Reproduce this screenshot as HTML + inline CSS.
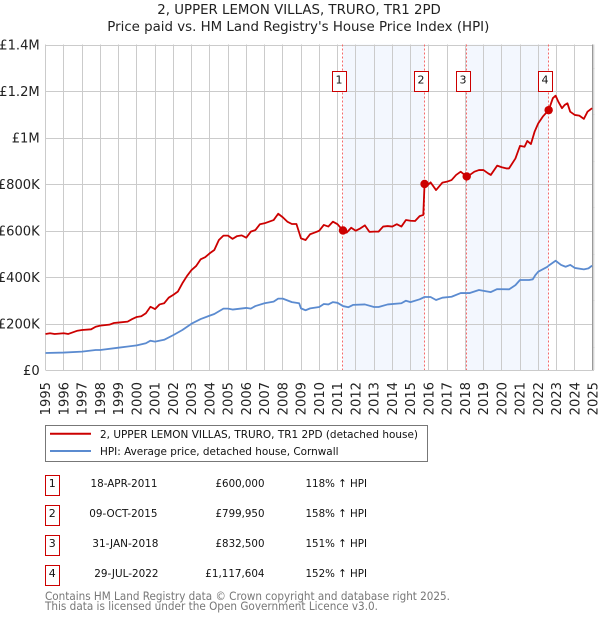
<!DOCTYPE html>
<html lang="en">
<head>
<meta charset="utf-8">
<title>2, UPPER LEMON VILLAS, TRURO, TR1 2PD</title>
<style>
html,body{margin:0;padding:0;background:#fff;width:600px;height:620px;overflow:hidden}
svg{display:block;font-family:"DejaVu Sans","Liberation Sans",sans-serif}
</style>
</head>
<body>
<svg id="chart" width="600" height="620" viewBox="0 0 600 620" xmlns="http://www.w3.org/2000/svg">
  <rect width="600" height="620" fill="#fff"/>
  <text x="157.3" y="14" font-size="13.3" fill="#222" textLength="283.5" lengthAdjust="spacingAndGlyphs">2, UPPER LEMON VILLAS, TRURO, TR1 2PD</text>
  <text x="107.3" y="31" font-size="13.3" fill="#222" textLength="382" lengthAdjust="spacingAndGlyphs">Price paid vs. HM Land Registry's House Price Index (HPI)</text>
  <g id="shade"></g>
  <g id="grid"></g>
  <g id="ylabels"></g>
  <g id="xlabels"></g>
  <g id="vlines"></g>
  <g id="series"></g>
  <g id="flags"></g>

  <g>
    <rect x="45.5" y="425.5" width="382" height="36" fill="#fff" stroke="#777" stroke-width="1"/>
    <line x1="50" y1="433.7" x2="91" y2="433.7" stroke="#cc0000" stroke-width="2"/>
    <text x="100" y="438" font-size="11" fill="#111" textLength="318" lengthAdjust="spacingAndGlyphs">2, UPPER LEMON VILLAS, TRURO, TR1 2PD (detached house)</text>
    <line x1="50" y1="451" x2="91" y2="451" stroke="#5b8bd0" stroke-width="2"/>
    <text x="100" y="455" font-size="11" fill="#111" textLength="238.5" lengthAdjust="spacingAndGlyphs">HPI: Average price, detached house, Cornwall</text>
  </g>

  <g font-size="11" fill="#111">
    <g>
      <rect x="45.5" y="475.5" width="14" height="20" fill="#fff" stroke="#cc0000"/>
      <text x="52.3" y="487" text-anchor="middle">1</text>
      <text x="90.5" y="487" textLength="67" lengthAdjust="spacingAndGlyphs">18-APR-2011</text>
      <text x="215.5" y="487" textLength="49" lengthAdjust="spacingAndGlyphs">£600,000</text>
      <text x="305.5" y="487" textLength="61.5" lengthAdjust="spacingAndGlyphs">118% ↑ HPI</text>
    </g>
    <g>
      <rect x="45.5" y="505.5" width="14" height="20" fill="#fff" stroke="#cc0000"/>
      <text x="52.3" y="517" text-anchor="middle">2</text>
      <text x="89.3" y="517" textLength="68.2" lengthAdjust="spacingAndGlyphs">09-OCT-2015</text>
      <text x="215.5" y="517" textLength="49" lengthAdjust="spacingAndGlyphs">£799,950</text>
      <text x="305.5" y="517" textLength="61.5" lengthAdjust="spacingAndGlyphs">158% ↑ HPI</text>
    </g>
    <g>
      <rect x="45.5" y="535.5" width="14" height="20" fill="#fff" stroke="#cc0000"/>
      <text x="52.3" y="547" text-anchor="middle">3</text>
      <text x="92.3" y="547" textLength="66.2" lengthAdjust="spacingAndGlyphs">31-JAN-2018</text>
      <text x="215.5" y="547" textLength="49" lengthAdjust="spacingAndGlyphs">£832,500</text>
      <text x="305.5" y="547" textLength="61.5" lengthAdjust="spacingAndGlyphs">151% ↑ HPI</text>
    </g>
    <g>
      <rect x="45.5" y="565.5" width="14" height="20" fill="#fff" stroke="#cc0000"/>
      <text x="52.3" y="577" text-anchor="middle">4</text>
      <text x="94.3" y="577" textLength="64.2" lengthAdjust="spacingAndGlyphs">29-JUL-2022</text>
      <text x="205.3" y="577" textLength="59.2" lengthAdjust="spacingAndGlyphs">£1,117,604</text>
      <text x="305.5" y="577" textLength="61.5" lengthAdjust="spacingAndGlyphs">152% ↑ HPI</text>
    </g>
  </g>

  <text x="45" y="600" font-size="11.5" fill="#777" textLength="405" lengthAdjust="spacingAndGlyphs">Contains HM Land Registry data © Crown copyright and database right 2025.</text>
  <text x="45" y="610" font-size="11.5" fill="#777" textLength="333" lengthAdjust="spacingAndGlyphs">This data is licensed under the Open Government Licence v3.0.</text>
</svg>

<script>
const yTickValues = [0, 200000, 400000, 600000, 800000, 1000000, 1200000, 1400000];
const yTickLabels = ['£0', '£200K', '£400K', '£600K', '£800K', '£1M', '£1.2M', '£1.4M'];
const yMinorTicks = [100000, 300000, 500000, 700000, 900000, 1100000, 1300000];
const xTickYears = [1995,1996,1997,1998,1999,2000,2001,2002,2003,2004,2005,2006,2007,2008,2009,2010,2011,2012,2013,2014,2015,2016,2017,2018,2019,2020,2021,2022,2023,2024,2025];

const saleLabels = ['1', '2', '3', '4'];
const saleDates = [2011.30, 2015.77, 2018.08, 2022.57];
const salePrices = [600000, 799950, 832500, 1117604];

const paidDates = [1995,1995.25,1995.5,1996,1996.25,1996.5,1996.75,1997,1997.5,1997.75,1998,1998.5,1998.75,1999,1999.5,1999.75,2000,2000.25,2000.5,2000.75,2001,2001.25,2001.5,2001.75,2002,2002.25,2002.5,2002.75,2003,2003.25,2003.5,2003.75,2004,2004.25,2004.5,2004.75,2005,2005.25,2005.5,2005.75,2006,2006.25,2006.5,2006.75,2007,2007.25,2007.5,2007.75,2008,2008.25,2008.5,2008.75,2009,2009.25,2009.5,2009.75,2010,2010.25,2010.5,2010.75,2011,2011.3,2011.5,2011.75,2012,2012.25,2012.5,2012.75,2013,2013.25,2013.5,2013.75,2014,2014.25,2014.5,2014.75,2015,2015.25,2015.5,2015.7,2015.77,2015.9,2016.1,2016.4,2016.75,2017,2017.25,2017.5,2017.75,2018.08,2018.25,2018.5,2018.75,2019,2019.25,2019.4,2019.75,2020,2020.25,2020.4,2020.75,2021,2021.25,2021.4,2021.6,2021.8,2022,2022.25,2022.57,2022.8,2022.95,2023.1,2023.3,2023.45,2023.6,2023.75,2024,2024.25,2024.5,2024.7,2024.95];
const paidValues = [155,158,155,158,155,162,169,172,175,186,191,195,202,204,208,219,228,231,244,272,262,282,287,311,323,337,373,404,430,447,476,485,502,516,559,578,578,564,576,579,569,595,602,627,631,638,645,672,657,638,628,628,566,559,584,591,599,624,617,638,627,600,591,612,599,609,622,594,595,595,617,619,617,627,617,645,642,641,662,667,800,792,807,774,806,810,817,839,853,832,839,853,860,860,846,839,879,872,867,867,910,964,960,985,972,1025,1061,1090,1117.6,1169,1180,1154,1126,1140,1147,1111,1097,1094,1080,1111,1126];

const hpiDates = [1995,1996,1997,1997.75,1998,1999,2000,2000.5,2000.75,2001,2001.5,2002,2002.5,2003,2003.5,2004,2004.25,2004.75,2005,2005.25,2006,2006.25,2006.5,2007,2007.5,2007.75,2008,2008.5,2008.9,2009,2009.25,2009.5,2010,2010.25,2010.5,2010.75,2011,2011.3,2011.6,2011.85,2012.5,2013,2013.25,2013.75,2014.5,2014.75,2015,2015.5,2015.77,2016.1,2016.4,2016.75,2017.25,2017.75,2018.25,2018.75,2019.4,2019.75,2020.4,2020.75,2021,2021.5,2021.7,2021.85,2022,2022.5,2022.57,2022.95,2023.25,2023.5,2023.75,2024,2024.5,2024.75,2024.95];
const hpiValues = [73,75,79,86,86,96,106,115,126,122,130,150,172,199,219,234,241,264,264,260,267,264,275,287,294,307,307,292,287,265,257,265,271,284,282,292,289,275,270,280,282,271,271,282,287,298,292,304,314,314,301,311,315,331,331,344,335,348,347,365,387,387,390,409,423,444,449,470,452,444,452,439,433,437,449];

const NS = 'http://www.w3.org/2000/svg';
const plotLeft = 45.5, plotRight = 593, plotTop = 44.5, plotBottom = 370;
function xScale(year) { return plotLeft + (year - 1995) * (plotRight - plotLeft) / 30; }
function yScale(value) { return plotBottom - value * (plotBottom - plotTop) / 1400000; }
function make(tag, parent, attrs) {
  const el = document.createElementNS(NS, tag);
  for (const k in attrs) el.setAttribute(k, attrs[k]);
  parent.appendChild(el);
  return el;
}
const shade = document.getElementById('shade');
const grid = document.getElementById('grid');
const ylabels = document.getElementById('ylabels');
const xlabels = document.getElementById('xlabels');
const vlines = document.getElementById('vlines');
const series = document.getElementById('series');
const flags = document.getElementById('flags');

for (let i = 0; i + 1 < saleDates.length; i += 2) {
  const r = make('rect', shade, {x: xScale(saleDates[i]), y: plotTop, width: xScale(saleDates[i + 1]) - xScale(saleDates[i]), height: plotBottom - plotTop, fill: '#f3f7fe'});
  
  
}
yTickValues.forEach(function (v, i) {
  const y = Math.round(yScale(v)) + 0.5;
  const l = make('line', grid, {x1: plotLeft, x2: plotRight + 1, y1: y, y2: y, stroke: '#cbcbcb', 'stroke-width': 1});
  
  
  const t = make('text', ylabels, {x: 39.7, y: yScale(v) + 5, 'text-anchor': 'end', 'font-size': 13.1, fill: '#222'});
  
  
  t.textContent = yTickLabels[i];
});
xTickYears.forEach(function (yr) {
  const x = Math.round(xScale(yr) - 0.5) + 0.5;
  const l = make('line', grid, {x1: x, x2: x, y1: plotTop, y2: plotBottom, stroke: '#cbcbcb', 'stroke-width': 1});
  
  
  const t = make('text', xlabels, {transform: 'translate(' + (xScale(yr) + 4.5) + ',382) rotate(-90)', 'text-anchor': 'end', 'font-size': 13.1, fill: '#222'});
  
  
  t.textContent = String(yr);
});
const rightAxis = make('line', grid, {x1: plotRight - 0.5, x2: plotRight - 0.5, y1: plotTop, y2: plotBottom, stroke: '#999', 'stroke-width': 1});


const rightFrame = make('line', grid, {x1: plotRight + 1, x2: plotRight + 1, y1: plotTop, y2: plotBottom, stroke: '#dcdcdc', 'stroke-width': 1});


yMinorTicks.forEach(function (v) {
  const y = Math.round(yScale(v)) + 0.5;
  const l = make('line', grid, {x1: plotRight, x2: plotRight + 1.5, y1: y, y2: y, stroke: '#cbcbcb', 'stroke-width': 1});
  
  
});

saleDates.forEach(function (d) {
  const x = Math.round(xScale(d) - 0.5) + 0.5;
  const l = make('line', vlines, {x1: x, x2: x, y1: plotTop, y2: plotBottom, stroke: '#f56a6a', 'stroke-width': 1, 'stroke-dasharray': '2 2'});
  
  
});

function pathOf(dates, values) {
  return dates.map(function (d, i) {
    return (i ? 'L' : 'M') + xScale(d).toFixed(2) + ' ' + yScale(values[i] * 1000).toFixed(2);
  }).join(' ');
}
const hpiLine = make('path', series, {d: pathOf(hpiDates, hpiValues), fill: 'none', stroke: '#5b8bd0', 'stroke-width': 1.8, 'stroke-linejoin': 'round'});


const paidLine = make('path', series, {d: pathOf(paidDates, paidValues), fill: 'none', stroke: '#cc0000', 'stroke-width': 1.8, 'stroke-linejoin': 'round'});



saleDates.forEach(function (d, i) {
  const m = make('circle', series, {cx: xScale(d), cy: yScale(salePrices[i]), r: 4.2, fill: '#cc0000'});
  
  
  const fx = Math.round(xScale(d) - 10.5);
  const b = make('rect', flags, {x: fx + 0.5, y: 71.5, width: 14, height: 20, fill: '#fff', stroke: '#cc0000', 'stroke-width': 1});
  
  
  const t = make('text', flags, {x: fx + 7, y: 83.5, 'text-anchor': 'middle', 'font-size': 11, fill: '#111'});
  
  
  t.textContent = saleLabels[i];
});
</script>
</body>
</html>
